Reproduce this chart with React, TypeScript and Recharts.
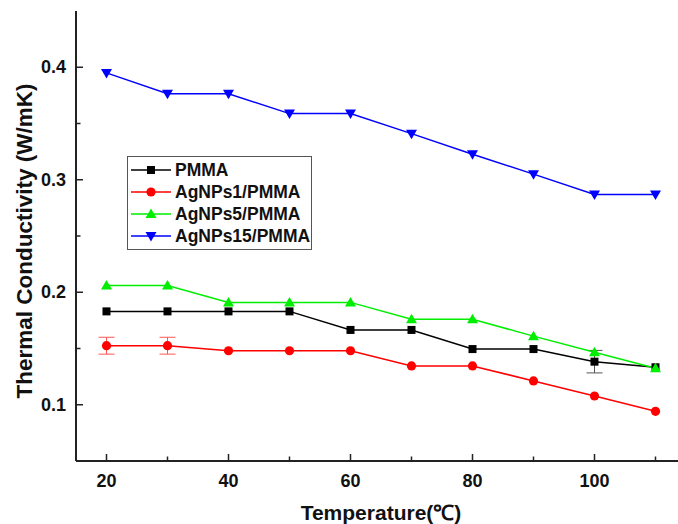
import { LineChart, Line, XAxis, YAxis, Legend, ErrorBar, Label } from 'recharts';

const temps = [20, 30, 40, 50, 60, 70, 80, 90, 100, 110];
const pmma = [0.183, 0.183, 0.183, 0.183, 0.1665, 0.1665, 0.1495, 0.1495, 0.1383, 0.1333];
const pmmaErr = [0, 0, 0, 0, 0, 0, 0, 0, 0.01, 0];
const ag1 = [0.1525, 0.1525, 0.148, 0.148, 0.148, 0.1345, 0.1345, 0.1212, 0.1078, 0.0942];
const ag1Err = [0.0075, 0.0075, 0, 0, 0, 0, 0, 0, 0, 0];
const ag5 = [0.206, 0.206, 0.191, 0.191, 0.191, 0.176, 0.176, 0.161, 0.1467, 0.1325];
const ag15 = [0.395, 0.3765, 0.3765, 0.3588, 0.3588, 0.341, 0.3227, 0.305, 0.287, 0.287];

const xTicks = [20, 30, 40, 50, 60, 70, 80, 90, 100, 110];
const yTicks = [0.1, 0.15, 0.2, 0.25, 0.3, 0.35, 0.4];
const seriesOrder = ['pmma', 'ag1', 'ag5', 'ag15'];

const rows = temps.map((t, i) => ({
  t,
  pmma: pmma[i],
  pmmaErr: pmmaErr[i],
  ag1: ag1[i],
  ag1Err: ag1Err[i],
  ag5: ag5[i],
  ag15: ag15[i],
}));

const FONT = '"Liberation Sans", Arial, sans-serif';
const AXIS = '#222';

type Shape = 'square' | 'circle' | 'up' | 'down';

function Marker({ cx, cy, shape, fill }: { cx: number; cy: number; shape: Shape; fill: string }) {
  if (shape === 'square') return <rect x={cx - 4} y={cy - 4} width={8} height={8} fill={fill} />;
  if (shape === 'circle') return <circle cx={cx} cy={cy} r={4.6} fill={fill} />;
  if (shape === 'up')
    return <polygon points={`${cx - 5.5},${cy + 4} ${cx + 5.5},${cy + 4} ${cx},${cy - 5.5}`} fill={fill} />;
  return <polygon points={`${cx - 5.5},${cy - 4} ${cx + 5.5},${cy - 4} ${cx},${cy + 5.5}`} fill={fill} />;
}

const shapes: Record<string, Shape> = { pmma: 'square', ag1: 'circle', ag5: 'up', ag15: 'down' };

const dotFor = (key: string, color: string) => (p: any) =>
  <Marker key={`${key}-${p.index}`} cx={p.cx} cy={p.cy} shape={shapes[key]} fill={color} />;

function XTick({ x, y, payload }: any) {
  const major = payload.value % 20 === 0;
  return (
    <g>
      <line x1={x} x2={x} y1={y} y2={y - (major ? 7 : 4.5)} stroke={AXIS} strokeWidth={1.5} />
      {major && (
        <text x={x} y={y + 26} textAnchor="middle" fontFamily={FONT} fontWeight="bold" fontSize={18} fill="#111">
          {payload.value}
        </text>
      )}
    </g>
  );
}

function YTick({ x, y, payload }: any) {
  const v = payload.value;
  const major = Math.abs(v * 10 - Math.round(v * 10)) < 1e-6;
  return (
    <g>
      <line x1={x} x2={x + (major ? 7 : 4.5)} y1={y} y2={y} stroke={AXIS} strokeWidth={1.5} />
      {major && (
        <text x={x - 10} y={y + 6} textAnchor="end" fontFamily={FONT} fontWeight="bold" fontSize={18} fill="#111">
          {v.toFixed(1)}
        </text>
      )}
    </g>
  );
}

function LegendBox({ payload }: any) {
  const items = [...(payload || [])].sort(
    (a: any, b: any) => seriesOrder.indexOf(a.dataKey) - seriesOrder.indexOf(b.dataKey)
  );
  return (
    <div
      style={{
        border: '1px solid #555',
        background: '#fff',
        width: 183,
        padding: '2px 0',
        fontFamily: FONT,
        fontWeight: 'bold',
        fontSize: 17.5,
        color: '#111',
      }}
    >
      {items.map((e: any) => (
        <div key={e.dataKey} style={{ display: 'flex', alignItems: 'center', height: 22 }}>
          <svg width={47} height={16}>
            <line x1={3} x2={43} y1={8} y2={8} stroke={e.color} strokeWidth={1.5} />
            <Marker cx={23} cy={8} shape={shapes[e.dataKey]} fill={e.color} />
          </svg>
          <span>{e.value}</span>
        </div>
      ))}
    </div>
  );
}

function YTitle({ viewBox }: any) {
  const x = viewBox.x + 32;
  const y = 241;
  return (
    <text
      x={x}
      y={y}
      transform={`rotate(-90 ${x} ${y})`}
      textAnchor="middle"
      fontFamily={FONT}
      fontWeight="bold"
      fontSize={22.5}
      fill="#111"
    >
      Thermal Conductivity (W/mK)
    </text>
  );
}

export default function App() {
  return (
    <div style={{ position: 'absolute', left: 0, top: 0, width: 678, height: 524, overflow: 'hidden', background: '#fff' }}>
      <LineChart width={700} height={524} data={rows} margin={{ top: 11, right: 14, bottom: 0, left: 0 }}>
        <XAxis
          dataKey="t"
          type="number"
          domain={[15, 115]}
          ticks={xTicks}
          allowDataOverflow
          height={63}
          tickSize={0}
          tickMargin={0}
          tickLine={false}
          tick={<XTick />}
          axisLine={{ stroke: AXIS, strokeWidth: 2 }}
        >
          <Label
            value="Temperature(℃)"
            position="insideBottom"
            offset={4}
            style={{ fontFamily: FONT, fontWeight: 'bold', fontSize: 21, fill: '#111' }}
          />
        </XAxis>
        <XAxis
          xAxisId="top"
          dataKey="t"
          type="number"
          orientation="top"
          domain={[15, 115]}
          height={0}
          tick={false}
          tickLine={false}
          axisLine={{ stroke: AXIS, strokeWidth: 2 }}
        />
        <YAxis
          type="number"
          domain={[0.05, 0.45]}
          ticks={yTicks}
          allowDataOverflow
          width={76}
          tickSize={0}
          tickMargin={0}
          tickLine={false}
          tick={<YTick />}
          axisLine={{ stroke: AXIS, strokeWidth: 2 }}
        >
          <Label content={<YTitle />} />
        </YAxis>
        <Legend
          layout="vertical"
          align="center"
          verticalAlign="middle"
          wrapperStyle={{ left: 127, top: 156, width: 'auto' }}
          content={<LegendBox />}
        />
        <Line dataKey="pmma" name="PMMA" stroke="#000" strokeWidth={1.5} dot={dotFor('pmma', '#000')} isAnimationActive={false}>
          <ErrorBar dataKey="pmmaErr" width={8} stroke="#555" strokeWidth={1} direction="y" />
        </Line>
        <Line dataKey="ag1" name="AgNPs1/PMMA" stroke="#ff0000" strokeWidth={1.5} dot={dotFor('ag1', '#ff0000')} isAnimationActive={false}>
          <ErrorBar dataKey="ag1Err" width={8} stroke="#ff5555" strokeWidth={1} direction="y" />
        </Line>
        <Line dataKey="ag5" name="AgNPs5/PMMA" stroke="#00ee00" strokeWidth={1.5} dot={dotFor('ag5', '#00ee00')} isAnimationActive={false} />
        <Line dataKey="ag15" name="AgNPs15/PMMA" stroke="#0000ff" strokeWidth={1.5} dot={dotFor('ag15', '#0000ff')} isAnimationActive={false} />
      </LineChart>
    </div>
  );
}
